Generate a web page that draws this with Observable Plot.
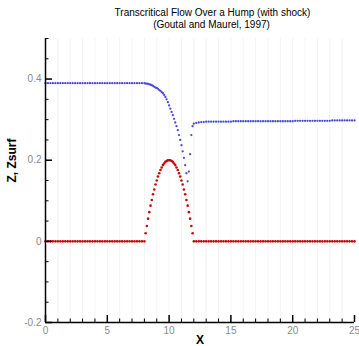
<!DOCTYPE html>
<html>
<head>
<meta charset="utf-8">
<script src="https://cdn.jsdelivr.net/npm/d3@7"></script>
<script src="https://cdn.jsdelivr.net/npm/@observablehq/plot@0.6"></script>
<style>
  html, body { margin: 0; padding: 0; background: #fff; }
</style>
</head>
<body>
<div id="chart"></div>
<script>
// ---- Data ----
const titleLines = ["Transcritical Flow Over a Hump (with shock)", "(Goutal and Maurel, 1997)"];
const xLabel = "X";
const yLabel = "Z, Zsurf";

// x positions: upstream flat, hump zone, downstream flat
const xUp = [0,0.2,0.4,0.6,0.8,1,1.2,1.4,1.6,1.8,2,2.2,2.4,2.6,2.8,3,3.2,3.4,3.6,3.8,4,4.2,4.4,4.6,4.8,5,5.2,5.4,5.6,5.8,6,6.2,6.4,6.6,6.8,7,7.2,7.4,7.6,7.8];
const xHump = [8,8.1,8.2,8.3,8.4,8.5,8.6,8.7,8.8,8.9,9,9.1,9.2,9.3,9.4,9.5,9.6,9.7,9.8,9.9,10,10.1,10.2,10.3,10.4,10.5,10.6,10.7,10.8,10.9,11,11.1,11.2,11.3,11.4,11.5,11.6,11.7,11.8,11.9,12];
const xDown = [12.2,12.4,12.6,12.8,13,13.2,13.4,13.6,13.8,14,14.2,14.4,14.6,14.8,15,15.2,15.4,15.6,15.8,16,16.2,16.4,16.6,16.8,17,17.2,17.4,17.6,17.8,18,18.2,18.4,18.6,18.8,19,19.2,19.4,19.6,19.8,20,20.2,20.4,20.6,20.8,21,21.2,21.4,21.6,21.8,22,22.2,22.4,22.6,22.8,23,23.2,23.4,23.6,23.8,24,24.2,24.4,24.6,24.8,25];

// Bed elevation Z
const zBedUp = [0,0,0,0,0,0,0,0,0,0,0,0,0,0,0,0,0,0,0,0,0,0,0,0,0,0,0,0,0,0,0,0,0,0,0,0,0,0,0,0];
const zBedHump = [0,0.02,0.038,0.056,0.072,0.088,0.102,0.116,0.128,0.14,0.15,0.16,0.168,0.176,0.182,0.188,0.192,0.196,0.198,0.2,0.2,0.2,0.198,0.196,0.192,0.188,0.182,0.176,0.168,0.16,0.15,0.14,0.128,0.116,0.102,0.088,0.072,0.056,0.038,0.02,0];
const zBedDown = [0,0,0,0,0,0,0,0,0,0,0,0,0,0,0,0,0,0,0,0,0,0,0,0,0,0,0,0,0,0,0,0,0,0,0,0,0,0,0,0,0,0,0,0,0,0,0,0,0,0,0,0,0,0,0,0,0,0,0,0,0,0,0,0,0];

// Free surface Zsurf
const zSurfUp = [0.39,0.39,0.39,0.39,0.39,0.39,0.39,0.39,0.39,0.39,0.39,0.39,0.39,0.39,0.39,0.39,0.39,0.39,0.39,0.39,0.39,0.39,0.39,0.39,0.39,0.39,0.39,0.39,0.39,0.39,0.39,0.39,0.39,0.39,0.39,0.39,0.39,0.39,0.39,0.39];
const zSurfHump = [0.39,0.389,0.389,0.388,0.387,0.386,0.385,0.383,0.381,0.379,0.378,0.376,0.373,0.371,0.368,0.365,0.361,0.356,0.35,0.343,0.335,0.327,0.319,0.311,0.302,0.293,0.284,0.274,0.262,0.25,0.237,0.222,0.206,0.188,0.168,0.148,0.172,0.215,0.262,0.284,0.29];
const zSurfDown = [0.292,0.293,0.294,0.294,0.295,0.295,0.295,0.295,0.295,0.295,0.295,0.295,0.295,0.295,0.295,0.296,0.296,0.296,0.296,0.296,0.296,0.296,0.296,0.296,0.296,0.296,0.296,0.296,0.296,0.296,0.296,0.296,0.296,0.296,0.296,0.296,0.296,0.296,0.296,0.296,0.297,0.297,0.297,0.297,0.297,0.297,0.297,0.297,0.297,0.297,0.297,0.297,0.297,0.297,0.297,0.298,0.298,0.298,0.298,0.298,0.298,0.298,0.298,0.298,0.298];

// Axis ticks
const xMajor = [0,5,10,15,20,25];
const xMinor = [1,2,3,4,6,7,8,9,11,12,13,14,16,17,18,19,21,22,23,24];
const yMajor = [-0.2,0,0.2,0.4];
const yMinor = [-0.15,-0.1,-0.05,0.05,0.1,0.15,0.25,0.3,0.35,0.45,0.5];
const gridX = [1,2,3,4,5,6,7,8,9,10,11,12,13,14,15,16,17,18,19,20,21,22,23,24];

// ---- Build table ----
const xs = xUp.concat(xHump, xDown);
const zb = zBedUp.concat(zBedHump, zBedDown);
const zs = zSurfUp.concat(zSurfHump, zSurfDown);
const table = xs.map((x, i) => ({x, zb: zb[i], zs: zs[i]}));

const W = 359, H = 346, mL = 45, mR = 5, mT = 38, mB = 24;
const innerW = W - mL - mR, innerH = H - mT - mB;
const font = "'Liberation Sans', Arial, Helvetica, sans-serif";

const chart = Plot.plot({
  width: W, height: H,
  marginLeft: mL, marginRight: mR, marginTop: mT, marginBottom: mB,
  x: {domain: [0, 25]},
  y: {domain: [-0.2, 0.5]},
  style: {fontFamily: font, fontSize: "10px", background: "white", overflow: "visible"},
  marks: [
    Plot.ruleX(gridX, {stroke: "#f3f3f3", strokeWidth: 1}),
    Plot.dot(table, {x: "x", y: "zb", r: 1.3, fill: "#c40a0a", stroke: "none"}),
    Plot.dot(table, {x: "x", y: "zs", r: 1.15, fill: "#4a4ad8", stroke: "none"}),
    Plot.ruleX([0], {stroke: "black", strokeWidth: 1.5}),
    Plot.ruleY([-0.2], {stroke: "black", strokeWidth: 1.5}),
    Plot.tickX(xMajor, {insetTop: innerH - 7, stroke: "black", strokeWidth: 1.5}),
    Plot.tickX(xMinor, {insetTop: innerH - 3.5, stroke: "black", strokeWidth: 1}),
    Plot.tickY(yMajor, {insetRight: innerW - 7, stroke: "black", strokeWidth: 1.5}),
    Plot.tickY(yMinor, {insetRight: innerW - 3.5, stroke: "black", strokeWidth: 1}),
    Plot.axisX(xMajor, {tickSize: 0, tickPadding: 4, fill: "#8a8a8a", label: null, tickFormat: d => String(d)}),
    Plot.axisY(yMajor, {tickSize: 0, tickPadding: 4, fill: "#8a8a8a", label: null, tickFormat: d => String(d)}),
    Plot.text([xLabel], {frameAnchor: "bottom", lineAnchor: "bottom", dy: 21.5, fontWeight: "bold", fontSize: 12, fill: "black"}),
    Plot.text([yLabel], {frameAnchor: "left", rotate: -90, dx: -33, dy: 2, fontWeight: "bold", fontSize: 12, fill: "black"}),
    Plot.text([titleLines[0]], {frameAnchor: "top", lineAnchor: "bottom", dx: 12.5, dy: 15.5 - mT, fontSize: 10, fill: "black"}),
    Plot.text([titleLines[1]], {frameAnchor: "top", lineAnchor: "bottom", dx: 11.5, dy: 27 - mT, fontSize: 10, fill: "black"})
  ]
});
document.getElementById("chart").appendChild(chart);
</script>
</body>
</html>
